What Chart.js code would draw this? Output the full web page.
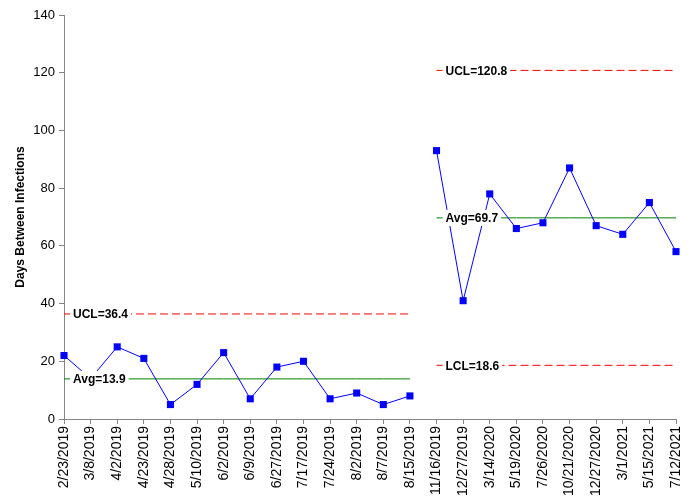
<!DOCTYPE html>
<html>
<head>
<meta charset="utf-8">
<script src="https://cdn.jsdelivr.net/npm/chart.js@4/dist/chart.umd.min.js"></script>
<style>
html, body { margin: 0; padding: 0; background: #fff; }
#wrap { width: 692px; height: 502px; }
</style>
</head>
<body>
<div id="wrap"><canvas id="grafica"></canvas></div>
<script>
const labels = ['2/23/2019', '3/8/2019', '4/2/2019', '4/23/2019', '4/28/2019', '5/10/2019',
    '6/2/2019', '6/9/2019', '6/27/2019', '7/17/2019', '7/24/2019', '8/2/2019', '8/7/2019',
    '8/15/2019', '11/16/2019', '12/27/2019', '3/14/2020', '5/19/2020', '7/26/2020',
    '10/21/2020', '12/27/2020', '3/1/2021', '5/15/2021', '7/12/2021'];

const days = [22, 14, 25, 21, 5, 12, 23, 7, 18, 20, 7, 9, 5, 8,
    93, 41, 78, 66, 68, 87, 67, 64, 75, 58];

// first index of each phase
const phaseStarts = [0, 14];
const avgValues = [13.9, 69.7];
const uclValues = [36.4, 120.8];
const lclValues = [null, 18.6];

const phaseOf = i => (i >= phaseStarts[1] ? 1 : 0);
const limitLine = (values, phase) =>
    labels.map((_, i) => (phaseOf(i) === phase ? values[phase] : null));

const FONT = "'Liberation Sans', Arial, sans-serif";

function limitSet(values, phase, color, dashed) {
    return {
        data: limitLine(values, phase),
        borderColor: color,
        borderWidth: 1,
        borderDash: dashed ? [8, 4] : [],
        pointRadius: 0,
        fill: false,
        spanGaps: false,
        order: 2
    };
}

const datasets = [{
    label: 'Days Between Infections',
    data: days,
    borderColor: '#0000ff',
    backgroundColor: '#0000ff',
    borderWidth: 1,
    pointStyle: 'rect',
    pointRadius: 5,
    pointBorderWidth: 0,
    fill: false,
    tension: 0,
    // no connecting segment across the phase change
    segment: {
        borderColor: c => (c.p1DataIndex === phaseStarts[1] ? 'rgba(0,0,0,0)' : '#0000ff')
    },
    order: 1
}];
[0, 1].forEach(p => {
    datasets.push(limitSet(avgValues, p, '#008000', false));
    datasets.push(limitSet(uclValues, p, '#ff0000', true));
    if (lclValues[p] !== null) datasets.push(limitSet(lclValues, p, '#ff0000', true));
});

// "UCL=.." / "Avg=.." tags sitting on the limit lines
const limitTags = {
    id: 'limitTags',
    afterDatasetsDraw(chart) {
        const ctx = chart.ctx;
        const xs = chart.scales.x, ys = chart.scales.y;
        ctx.save();
        ctx.font = 'bold 12px ' + FONT;
        ctx.textBaseline = 'middle';
        [0, 1].forEach(p => {
            const x0 = xs.getPixelForValue(phaseStarts[p]) + 9;
            const tags = [['UCL', uclValues[p]], ['Avg', avgValues[p]], ['LCL', lclValues[p]]];
            tags.forEach(([name, v]) => {
                if (v === null) return;
                const txt = name + '=' + v.toFixed(1);
                const y = ys.getPixelForValue(v);
                const w = ctx.measureText(txt).width;
                ctx.fillStyle = '#fff';
                ctx.fillRect(x0 - 3, y - 8, w + 6, 16);
                ctx.fillStyle = '#000';
                ctx.fillText(txt, x0, y + 1);
            });
        });
        ctx.restore();
    }
};

const graph = document.querySelector('#grafica');

new Chart(graph, {
    type: 'line',
    data: { labels: labels, datasets: datasets },
    options: {
        responsive: true,
        maintainAspectRatio: false,
        animation: false,
        layout: { padding: { top: 15, right: 16, left: 0, bottom: 0 } },
        plugins: { legend: { display: false }, tooltip: { enabled: false } },
        scales: {
            x: {
                offset: false,
                grid: { drawOnChartArea: false, tickLength: 5, color: '#868686' },
                border: { color: '#868686' },
                ticks: {
                    autoSkip: false, minRotation: 90, maxRotation: 90,
                    color: '#000', font: { family: FONT, size: 14 }, padding: 2
                },
                afterFit(scale) {
                    scale.height = 83;
                    scale.paddingLeft = 0;
                    scale.paddingRight = 0;
                }
            },
            y: {
                min: 0, max: 140,
                grid: { drawOnChartArea: false, tickLength: 5, color: '#868686' },
                border: { color: '#868686' },
                ticks: { stepSize: 20, color: '#000', font: { family: FONT, size: 13 }, padding: 4 },
                title: {
                    display: true, text: 'Days Between Infections', color: '#000',
                    font: { family: FONT, size: 12, weight: 'bold' }, padding: { top: 13, bottom: 0 }
                },
                afterFit(scale) { scale.width = 64; }
            }
        }
    },
    plugins: [limitTags]
});
</script>
</body>
</html>
